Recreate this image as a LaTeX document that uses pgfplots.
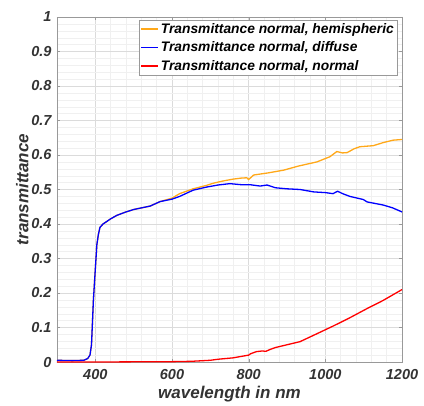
\documentclass[border=0pt]{standalone}
\usepackage{fontspec}
\setmainfont{Liberation Sans}
\usepackage{pgfplots}
\pgfplotsset{compat=1.18}
\definecolor{morange}{rgb}{1,0.66,0.1}
\definecolor{mgray}{rgb}{0.6,0.6,0.6}
\definecolor{mblue}{rgb}{0,0,1}
\definecolor{mred}{rgb}{1,0,0}
\begin{document}
\begin{tikzpicture}
\begin{axis}[
    scale only axis,
    width=345pt, height=345pt,
    xmin=300, xmax=1200, ymin=0, ymax=1,
    xtick={400,600,800,1000,1200},
    ytick={0,0.1,...,1},
    yticklabels={0,0.1,0.2,0.3,0.4,0.5,0.6,0.7,0.8,0.9,1},
    minor x tick num=4, minor y tick num=4,
    grid=both,
    major grid style={draw=black!14},
    minor grid style={draw=black!6},
    axis line style={draw=mgray},
    tick style={draw=mgray},
    tick align=inside,
    major tick length=3pt, minor tick length=0pt,
    /pgf/number format/assume math mode=true,
    /pgf/number format/1000 sep={},
    ticklabel style={font=\fontsize{14.5}{16}\selectfont\bfseries\itshape, text=black!80},
    xticklabel style={yshift=-4pt},
    yticklabel style={xshift=-2pt},
    label style={font=\fontsize{17}{19}\selectfont\bfseries\itshape, text=black!80},
    xlabel={wavelength in nm},
    ylabel={transmittance},
    xlabel style={yshift=0pt},
    ylabel style={yshift=-4pt},
    legend style={font=\fontsize{13.8}{15}\selectfont\bfseries\itshape, draw=mgray,
        fill=white, inner sep=1pt, row sep=3pt, at={(0.9855,0.991)}, anchor=north east,
        legend cell align=left},
]
\addlegendimage{draw=morange, line width=1.4pt}
\addlegendentry{Transmittance normal, hemispheric}
\addlegendimage{draw=mblue, line width=1.4pt}
\addlegendentry{Transmittance normal, diffuse}
\addlegendimage{draw=mred, line width=1.4pt}
\addlegendentry{Transmittance normal, normal}
\addplot[draw=morange, line width=1.3pt, forget plot] coordinates {
(300,0.005) (340,0.004) (370,0.005) (380,0.01) (386,0.02) (390,0.05) (395,0.18) (400,0.27) (404,0.34) (408,0.37) (412,0.39) (420,0.40) (440,0.415) (456,0.425) (480,0.435) (500,0.442) (543,0.452) (569,0.465) (600,0.475) (620,0.488) (655,0.502) (690,0.512) (707,0.518) (730,0.524) (759,0.530) (780,0.533) (795,0.534) (800,0.529) (813,0.542) (850,0.548) (891,0.556) (930,0.568) (978,0.580) (1012,0.595) (1030,0.610) (1045,0.606) (1057,0.607) (1075,0.618) (1090,0.624) (1125,0.627) (1151,0.636) (1177,0.643) (1200,0.645)
};
\addplot[draw=mblue, line width=1.3pt, forget plot] coordinates {
(300,0.005) (340,0.004) (370,0.005) (380,0.01) (386,0.02) (390,0.05) (395,0.18) (400,0.27) (404,0.34) (408,0.37) (412,0.39) (420,0.40) (440,0.415) (456,0.425) (480,0.435) (500,0.442) (543,0.452) (569,0.465) (600,0.472) (620,0.480) (655,0.498) (690,0.507) (720,0.513) (751,0.517) (780,0.514) (803,0.514) (830,0.510) (848,0.513) (870,0.505) (900,0.502) (934,0.500) (970,0.493) (1000,0.491) (1020,0.488) (1032,0.495) (1045,0.488) (1064,0.480) (1099,0.471) (1109,0.464) (1151,0.455) (1175,0.447) (1200,0.435)
};
\addplot[draw=mred, line width=1.3pt, forget plot] coordinates {
(300,0) (400,0.0) (500,0.0005) (600,0.001) (650,0.002) (700,0.005) (720,0.008) (759,0.012) (800,0.020) (805,0.024) (820,0.030) (835,0.032) (845,0.031) (855,0.036) (870,0.042) (900,0.050) (934,0.059) (980,0.083) (1020,0.104) (1060,0.126) (1109,0.155) (1150,0.178) (1200,0.210)
};
\coordinate (bl) at (rel axis cs:0,0);
\coordinate (tr) at (rel axis cs:1,1);
\end{axis}
\pgfresetboundingbox
\path[use as bounding box] (bl) ++(-57pt,-43pt) rectangle ([shift={(22pt,17pt)}]tr);
\end{tikzpicture}
\end{document}
